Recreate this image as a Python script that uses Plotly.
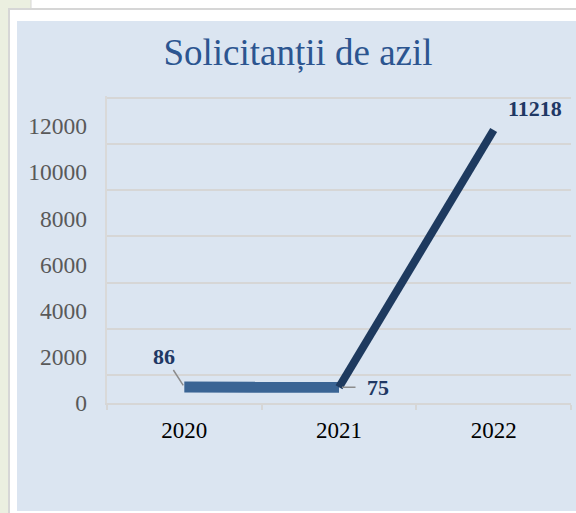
import plotly.graph_objects as go

# ---- data ----
years = ["2020", "2021", "2022"]
applicants = [86, 75, 11218]
y_ticks = [0, 2000, 4000, 6000, 8000, 10000, 12000]
y_tick_text = ["0", "2000", "4000", "6000", "8000", "10000", "12000"]
title_text = "Solicitanții de azil"

# ---- layout geometry (pixels) ----
W, H = 576, 513
ML, MR, MT, MB = 107, 5, 96, 110
PW, PH = W - ML - MR, H - MT - MB
TOP, BOT = MT, H - MB
SCALE = 46.17 / 2000.0  # px per unit


def px(x):
    return (x - ML) / PW


def py(y):
    return (BOT - y) / PH


def yrange(zero_px):
    return [-(BOT - zero_px) / SCALE, (zero_px - TOP) / SCALE]


SERIF = "Liberation Serif, Times New Roman, serif"
NAVY = "#1f3864"

fig = go.Figure()

# invisible trace so the back-wall grid axis is drawn
fig.add_trace(go.Scatter(x=years, y=applicants, yaxis="y2", mode="lines",
                         line=dict(width=0), opacity=0, hoverinfo="skip",
                         showlegend=False))
# flat part of the 3-D ribbon
fig.add_trace(go.Scatter(x=years[:2], y=applicants[:2], mode="lines",
                         line=dict(color="#3a6494", width=11),
                         showlegend=False))
# rising part
fig.add_trace(go.Scatter(x=years[1:], y=applicants[1:], mode="lines",
                         line=dict(color="#1e3a5f", width=8),
                         showlegend=False))

shapes = [
    dict(type="rect", xref="paper", yref="paper", x0=px(0), x1=px(8), y0=py(0), y1=py(H),
         fillcolor="#ebefe0", line_width=0, layer="below"),
    dict(type="rect", xref="paper", yref="paper", x0=px(0), x1=px(31), y0=py(0), y1=py(8),
         fillcolor="#ebefe0", line_width=0, layer="below"),
    dict(type="line", xref="paper", yref="paper", x0=px(9), x1=px(9), y0=py(8), y1=py(H),
         line=dict(color="#d6d6d6", width=2), layer="below"),
    dict(type="line", xref="paper", yref="paper", x0=px(9), x1=px(W), y0=py(9), y1=py(9),
         line=dict(color="#d6d6d6", width=2), layer="below"),
    dict(type="line", xref="paper", yref="paper", x0=px(31), x1=px(31), y0=py(0), y1=py(8),
         line=dict(color="#d6d6d6", width=1), layer="below"),
    dict(type="rect", xref="paper", yref="paper", x0=px(17), x1=px(W), y0=py(21), y1=py(511),
         fillcolor="#dbe5f1", line_width=0, layer="below"),
]

label_font = dict(family=SERIF, size=22, color=NAVY)
annotations = [
    dict(x=0, y=applicants[0], xref="x", yref="y", text="<b>%d</b>" % applicants[0],
         font=label_font, showarrow=True, arrowhead=0,
         arrowcolor="#8c8c8c", arrowwidth=1.5, ax=-20, ay=-31, standoff=2),
    dict(x=1, y=applicants[1], xref="x", yref="y", text="<b>%d</b>" % applicants[1],
         font=label_font, showarrow=True, arrowhead=0,
         arrowcolor="#8c8c8c", arrowwidth=1.5, ax=39, ay=0, standoff=3, startstandoff=10),
    dict(x=2, y=applicants[2], xref="x", yref="y", text="<b>%d</b>" % applicants[2],
         font=label_font, showarrow=False, xshift=41, yshift=22),
]

fig.update_layout(
    width=W, height=H,
    margin=dict(l=ML, r=MR, t=MT, b=MB),
    paper_bgcolor="white",
    plot_bgcolor="rgba(0,0,0,0)",
    title=dict(text=title_text, x=298 / W, y=1 - 52 / H, xanchor="center", yanchor="middle",
               xref="container", yref="container",
               font=dict(family=SERIF, size=37, color="#2c5590")),
    xaxis=dict(type="category", categoryorder="array", categoryarray=years,
               range=[-0.5, 2.5], showgrid=False, zeroline=False,
               showline=True, linecolor="#d6d6d6", linewidth=2,
               ticks="outside", tickson="boundaries", ticklen=5, tickcolor="#d6d6d6",
               tickwidth=2, ticklabelstandoff=5,
               tickfont=dict(family=SERIF, size=23, color="#000000")),
    yaxis=dict(range=yrange(389), tickvals=y_ticks, ticktext=y_tick_text,
               showgrid=False, zeroline=False,
               showline=False, ticks="", ticklabelshift=14, ticklabelstandoff=19,
               tickfont=dict(family=SERIF, size=23.5, color="#595959")),
    yaxis2=dict(range=yrange(375), overlaying="y", side="left", tickvals=y_ticks,
                showticklabels=False, showgrid=True, gridcolor="#d6d6d6", gridwidth=2,
                zeroline=False, showline=True, linecolor="#d9d9d9", linewidth=2, ticks=""),
    shapes=shapes,
    annotations=annotations,
    showlegend=False,
)

fig.write_html("out.html", config={"displayModeBar": False},
               post_script="document.body.style.margin='0';")
